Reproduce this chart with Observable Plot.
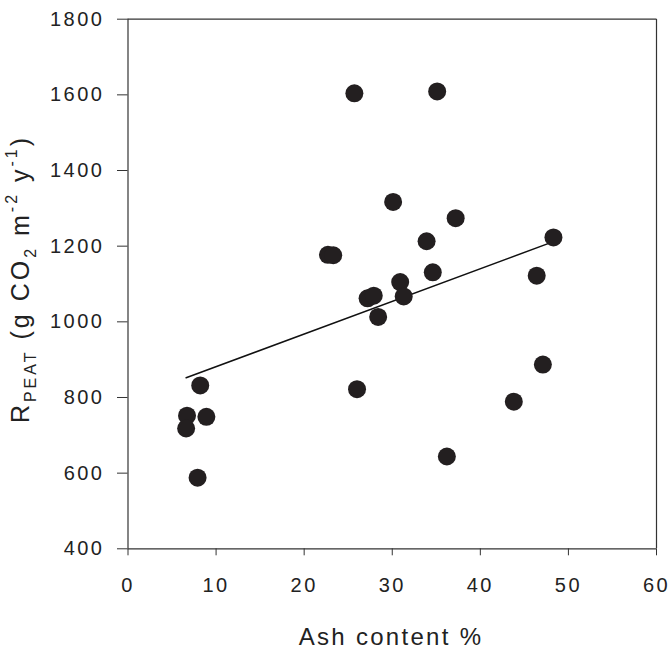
<!DOCTYPE html>
<html>
<head>
<meta charset="utf-8">
<script src="https://cdn.jsdelivr.net/npm/d3@7"></script>
<script src="https://cdn.jsdelivr.net/npm/@observablehq/plot@0.6"></script>
<style>
  html, body { margin: 0; padding: 0; background: #fff; }
  #chart svg text { letter-spacing: 2.5px; }
</style>
</head>
<body>
<div id="chart"></div>
<script>
// Ash content (%) and R_PEAT (g CO2 m-2 y-1)
const ash   = [25.7, 35.1, 30.1, 37.2, 48.3, 33.9, 22.7, 23.3, 34.6, 46.4, 30.9, 31.3, 27.2, 27.9, 28.4, 26.0, 47.1, 43.8, 36.2, 8.2, 6.7, 8.9, 6.6, 7.9];
const rpeat = [1604, 1609, 1317, 1274, 1223, 1213, 1177, 1176, 1131, 1122, 1105, 1067, 1062, 1069, 1013, 822, 887, 789, 644, 832, 752, 749, 718, 588];

// Fitted regression line endpoints
const fitX = [6.6, 48.3];
const fitY = [852, 1212];

const xTicks = [0, 10, 20, 30, 40, 50, 60];
const yTicks = [400, 600, 800, 1000, 1200, 1400, 1600, 1800];

const points = ash.map((a, i) => ({ash: a, r: rpeat[i]}));
const fit = fitX.map((x, i) => ({x, y: fitY[i]}));

const axisColor = "#333";
const plot = Plot.plot({
  width: 671,
  height: 649,
  marginLeft: 127.5,
  marginRight: 15,
  marginTop: 18.7,
  marginBottom: 100.7,
  style: {fontFamily: "'Liberation Sans', Arial, sans-serif", fontSize: "20px", color: "#222", background: "#fff"},
  x: {domain: [0, 60]},
  y: {domain: [400, 1800]},
  marks: [
    Plot.axisX({ticks: xTicks, tickFormat: d3.format("d"), tickSize: 7, tickPadding: 22, label: null, fontSize: 20, stroke: axisColor}),
    Plot.axisY({ticks: yTicks, tickFormat: d3.format("d"), tickSize: 10.5, tickPadding: 13, label: null, fontSize: 20, stroke: axisColor}),
    Plot.ruleY([400, 1800], {stroke: axisColor, strokeWidth: 1.2}),
    Plot.ruleX([0, 60], {stroke: axisColor, strokeWidth: 1.2}),
    Plot.line(fit, {x: "x", y: "y", stroke: "#111", strokeWidth: 1.5}),
    Plot.dot(points, {x: "ash", y: "r", r: 9, fill: "#231f20", stroke: "none"})
  ]
});

document.getElementById("chart").appendChild(plot);

const svg = d3.select(plot);
// x-axis title
svg.append("text")
  .attr("x", 391)
  .attr("y", 645)
  .attr("text-anchor", "middle")
  .style("font-size", "24px")
  .style("letter-spacing", "2.3px")
  .attr("fill", "#222")
  .text("Ash content %");

// y-axis title with sub/superscripts
const yl = svg.append("text")
  .attr("transform", "translate(29,279) rotate(-90)")
  .attr("text-anchor", "middle")
  .style("font-size", "25px")
  .style("letter-spacing", "3px")
  .attr("fill", "#222");
yl.append("tspan").text("R");
yl.append("tspan").attr("dy", 7).style("font-size", "16px").text("PEAT");
yl.append("tspan").attr("dy", -7).text(" (g CO");
yl.append("tspan").attr("dy", 7).style("font-size", "16px").text("2");
yl.append("tspan").attr("dy", -7).text(" m");
yl.append("tspan").attr("dy", -12).style("font-size", "16px").text("-2");
yl.append("tspan").attr("dy", 12).text(" y");
yl.append("tspan").attr("dy", -12).style("font-size", "16px").text("-1");
yl.append("tspan").attr("dy", 12).text(")");
</script>
</body>
</html>
